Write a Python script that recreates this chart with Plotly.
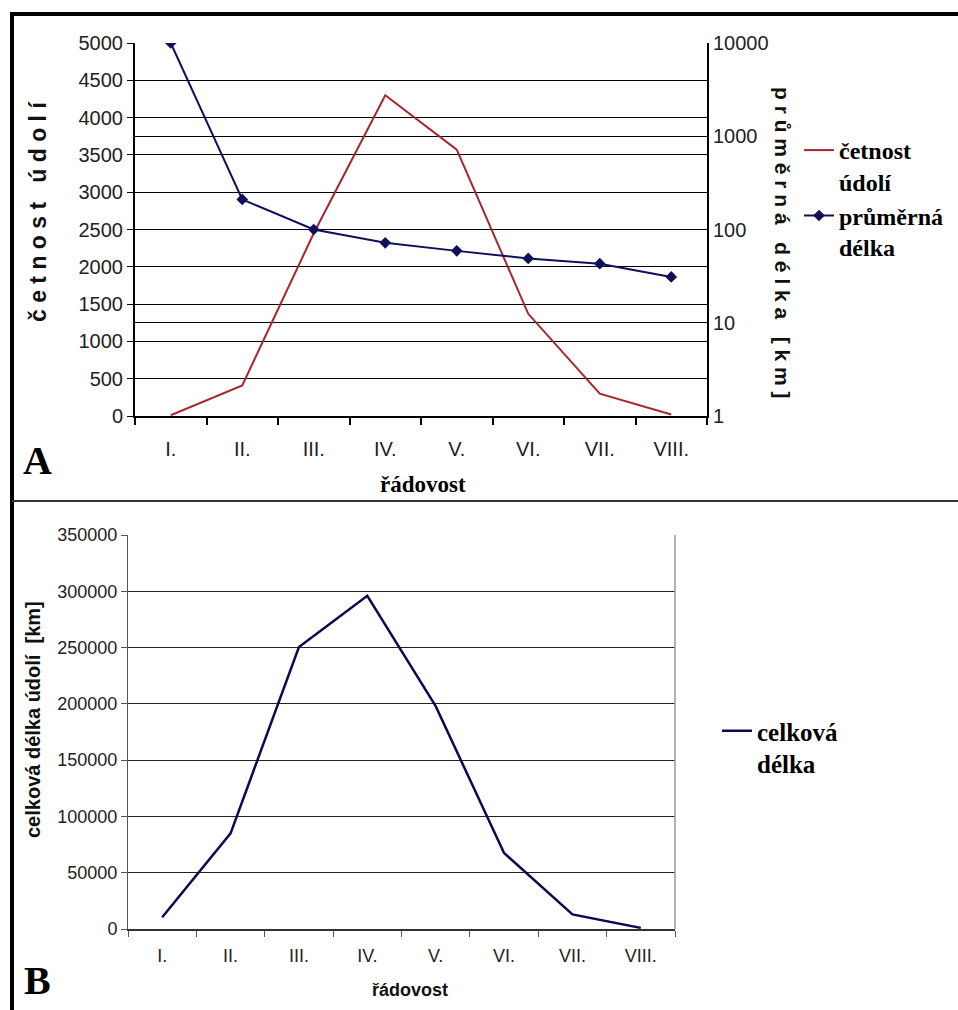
import plotly.graph_objects as go

# ---- data ----
orders = ["I.", "II.", "III.", "IV.", "V.", "VI.", "VII.", "VIII."]
valley_count = [10, 410, 2450, 4300, 3570, 1370, 300, 20]          # četnost údolí
mean_length = [10000, 210, 100, 72, 59, 49, 43, 31]                 # průměrná délka [km]
total_length = [10500, 85000, 250500, 296000, 198000, 67500, 13000, 1000]  # celková délka [km]

left_ticks = [0, 500, 1000, 1500, 2000, 2500, 3000, 3500, 4000, 4500, 5000]
log_ticks = [1, 10, 100, 1000, 10000]
bottom_ticks = [0, 50000, 100000, 150000, 200000, 250000, 300000, 350000]

W, H = 958, 1010
def px(x): return x / W
def py(y): return 1 - y / H

SERIF = "Liberation Serif, Times New Roman, serif"
SANS = "Liberation Sans, Arial, sans-serif"

fig = go.Figure()

fig.add_trace(go.Scatter(
    x=orders, y=valley_count, name="četnost<br>údolí", mode="lines",
    line=dict(color="#A8262E", width=2), xaxis="x", yaxis="y", legend="legend"))
fig.add_trace(go.Scatter(
    x=orders, y=mean_length, name="průměrná<br>délka", mode="lines+markers",
    line=dict(color="#10105A", width=2),
    marker=dict(symbol="diamond", size=9, color="#10105A"),
    xaxis="x", yaxis="y2", legend="legend"))
fig.add_trace(go.Scatter(
    x=orders, y=total_length, name="celková<br>délka", mode="lines",
    line=dict(color="#0A0A50", width=2.5), xaxis="x2", yaxis="y3", legend="legend2"))

tickfont_top = dict(family=SANS, size=20, color="#222")
tickfont_bot = dict(family=SANS, size=18, color="#222")

fig.update_layout(
    width=W, height=H, margin=dict(l=0, r=0, t=0, b=0, autoexpand=False),
    paper_bgcolor="white", plot_bgcolor="white",
    xaxis=dict(domain=[px(135), px(707)], anchor="y", type="category", automargin=False,
               range=[-0.5, 7.5], tickson="boundaries", ticks="outside",
               ticklen=7, tickwidth=2, tickcolor="black", showgrid=False,
               showline=True, linecolor="black", linewidth=2,
               tickfont=tickfont_top, ticklabelstandoff=14),
    yaxis=dict(domain=[py(416), py(43)], anchor="x", range=[0, 5000], automargin=False,
               tickvals=left_ticks, ticks="outside", ticklen=6, tickwidth=1,
               tickcolor="black", showgrid=True, gridcolor="black", gridwidth=1,
               showline=True, linecolor="black", linewidth=2,
               tickfont=tickfont_top, zeroline=False),
    yaxis2=dict(overlaying="y", side="right", anchor="x", type="log", automargin=False,
                range=[0, 4], tickvals=log_ticks, ticktext=[str(v) for v in log_ticks],
                ticks="inside", ticklen=4, tickcolor="black",
                showgrid=True, gridcolor="black", gridwidth=1,
                showline=True, linecolor="black", linewidth=2,
                tickfont=tickfont_top),
    xaxis2=dict(domain=[px(128), px(675)], anchor="y3", type="category", automargin=False,
                range=[-0.5, 7.5], tickson="boundaries", ticks="outside",
                ticklen=6, tickwidth=1, tickcolor="#555", showgrid=False,
                showline=True, linecolor="#333", linewidth=1.5,
                tickfont=tickfont_bot, ticklabelstandoff=10),
    yaxis3=dict(domain=[py(929), py(535)], anchor="x2", range=[0, 350000], automargin=False,
                tickvals=bottom_ticks, tickformat="d", ticks="outside", ticklen=6,
                tickcolor="#555", showgrid=True, gridcolor="#222", gridwidth=1,
                showline=True, linecolor="#555", linewidth=1,
                tickfont=tickfont_bot, zeroline=False),
    legend=dict(x=px(799), y=py(128), xanchor="left", yanchor="top",
                font=dict(family=SERIF, size=24, color="black", weight="bold"),
                valign="top", itemwidth=30, tracegroupgap=0, bgcolor="rgba(0,0,0,0)"),
    legend2=dict(x=px(717), y=py(708), xanchor="left", yanchor="top",
                 font=dict(family=SERIF, size=25, color="black", weight="bold"),
                 valign="top", itemwidth=30, bgcolor="rgba(0,0,0,0)"),
    showlegend=True,
)

# right border of lower plot area
fig.add_shape(type="line", xref="x2 domain", yref="y3 domain", x0=1, x1=1, y0=0, y1=1,
              line=dict(color="#999", width=1.5))

# frame and divider
fig.add_shape(type="line", xref="paper", yref="paper", x0=px(12), x1=px(12), y0=py(12), y1=0,
              line=dict(color="black", width=4))
fig.add_shape(type="line", xref="paper", yref="paper", x0=px(10), x1=1, y0=py(14), y1=py(14),
              line=dict(color="black", width=4))
fig.add_shape(type="line", xref="paper", yref="paper", x0=px(12), x1=1, y0=py(501), y1=py(501),
              line=dict(color="#333", width=2))

def spaced(s):
    return " ".join(list(s))

annotations = [
    dict(text="<b>" + spaced("četnost") + "   " + spaced("údolí") + "</b>",
         x=px(38), y=py(212), textangle=-90,
         font=dict(family=SANS, size=23, color="#111")),
    dict(text="<b>" + spaced("průměrná") + "   " + spaced("délka") + "   " + spaced("[km]") + "</b>",
         x=px(783), y=py(243), textangle=90,
         font=dict(family=SANS, size=21, color="#111")),
    dict(text="<b>řádovost</b>", x=px(423), y=py(484),
         font=dict(family=SERIF, size=23, color="black")),
    dict(text="<b>A</b>", x=px(37), y=py(461),
         font=dict(family=SERIF, size=40, color="black")),
    dict(text="<b>celková délka údolí  [km]</b>", x=px(33), y=py(720), textangle=-90,
         font=dict(family=SANS, size=20, color="#111")),
    dict(text="<b>řádovost</b>", x=px(410), y=py(990),
         font=dict(family=SANS, size=18, color="#111")),
    dict(text="<b>B</b>", x=px(37), y=py(980),
         font=dict(family=SERIF, size=40, color="black")),
]
for a in annotations:
    a.update(xref="paper", yref="paper", showarrow=False, xanchor="center", yanchor="middle")
fig.update_layout(annotations=annotations)

post = (
    "document.documentElement.style.margin='0';"
    "document.body.style.margin='0';"
    "document.documentElement.style.overflow='hidden';"
    "document.body.style.overflow='hidden';"
    "var gd=document.getElementById('{plot_id}');"
    "gd.style.position='fixed';gd.style.top='0px';gd.style.left='0px';"
)
fig.write_html("out.html", config={"displayModeBar": False}, post_script=post)
